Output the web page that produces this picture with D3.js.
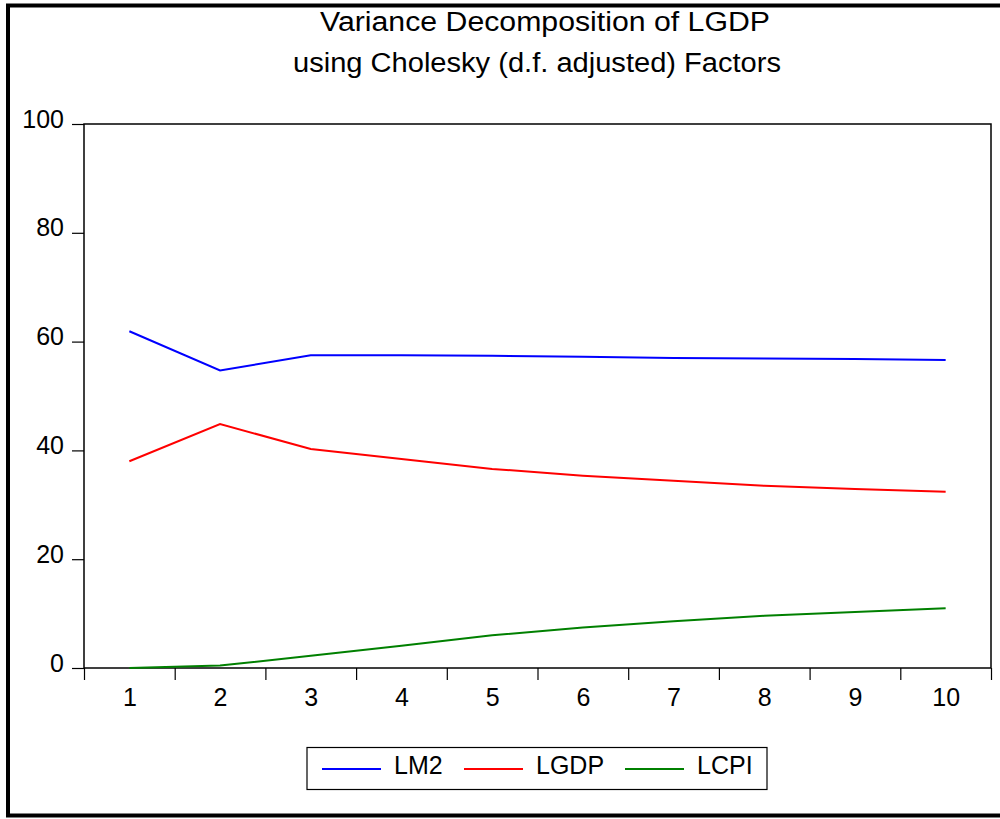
<!DOCTYPE html>
<html>
<head>
<meta charset="utf-8">
<script src="https://cdn.jsdelivr.net/npm/d3@7"></script>
<style>
  html, body { margin: 0; padding: 0; background: #fff; }
  svg { display: block; }
  text { font-family: "Liberation Sans", Arial, sans-serif; fill: #000; }
</style>
</head>
<body>
<svg id="chart" width="1000" height="819"></svg>
<script>
// Forecast horizons (periods)
const periods = [1, 2, 3, 4, 5, 6, 7, 8, 9, 10];

// Share of LGDP forecast-error variance explained by each shock (%)
const lm2Values  = [61.9, 54.7, 57.5, 57.5, 57.4, 57.2, 57.0, 56.9, 56.8, 56.6];
const lgdpValues = [38.0, 44.85, 40.25, 38.4, 36.6, 35.35, 34.4, 33.5, 32.9, 32.4];
const lcpiValues = [0.0, 0.45, 2.25, 4.1, 6.0, 7.45, 8.6, 9.6, 10.3, 11.0];

const seriesNames  = ["LM2", "LGDP", "LCPI"];
const seriesColors = ["#0000ff", "#ff0000", "#008000"];
const yTicks = [0, 20, 40, 60, 80, 100];
const titleLines = ["Variance Decomposition of LGDP", "using Cholesky (d.f. adjusted) Factors"];

const series = [lm2Values, lgdpValues, lcpiValues].map((vals, i) => ({
  name: seriesNames[i],
  color: seriesColors[i],
  values: vals.map((v, j) => ({ period: periods[j], value: v }))
}));

const svg = d3.select("#chart");
const plot = { left: 84, top: 124, right: 991, bottom: 668 };
const labelFont = "25px";

// outer frame
svg.append("rect")
  .attr("x", 8).attr("y", 5.5)
  .attr("width", 1010).attr("height", 810)
  .attr("fill", "none").attr("stroke", "#000").attr("stroke-width", 4);

// two-line title, each line stretched to its set width
const titleStart = [320, 293];
const titleWidth = [450, 488];
svg.append("g").selectAll("text")
  .data(titleLines)
  .join("text")
  .attr("x", (d, i) => titleStart[i])
  .attr("y", (d, i) => 31 + i * 41)
  .attr("textLength", (d, i) => titleWidth[i])
  .attr("lengthAdjust", "spacingAndGlyphs")
  .style("font-size", "27px")
  .text(d => d);

const x = d3.scaleLinear()
  .domain([0.5, 10.5])
  .range([plot.left, plot.right]);

const y = d3.scaleLinear()
  .domain([0, 100])
  .range([plot.bottom, plot.top]);

// plot box
svg.append("rect")
  .attr("x", plot.left).attr("y", plot.top)
  .attr("width", plot.right - plot.left).attr("height", plot.bottom - plot.top)
  .attr("fill", "none").attr("stroke", "#000").attr("stroke-width", 1.5);

// y axis
const yAxis = svg.append("g")
  .attr("transform", `translate(${plot.left},0)`)
  .call(d3.axisLeft(y).tickValues(yTicks).tickSize(12).tickPadding(8));
yAxis.select(".domain").remove();
yAxis.selectAll("line").attr("stroke", "#000").attr("stroke-width", 1.2);
yAxis.selectAll("text")
  .style("font-size", labelFont)
  .style("font-family", "'Liberation Sans', Arial, sans-serif")
  .attr("dy", "0.12em");

// x axis: tick marks at period boundaries, labels at period centres
const boundaries = d3.range(0.5, 11, 1);
const xTicks = svg.append("g")
  .attr("transform", `translate(0,${plot.bottom})`)
  .call(d3.axisBottom(x).tickValues(boundaries).tickSize(12).tickFormat(""));
xTicks.select(".domain").remove();
xTicks.selectAll("line").attr("stroke", "#000").attr("stroke-width", 1.2);

const xLabels = svg.append("g")
  .attr("transform", `translate(0,${plot.bottom})`)
  .call(d3.axisBottom(x).tickValues(periods).tickSize(0).tickPadding(20).tickFormat(d3.format("d")));
xLabels.select(".domain").remove();
xLabels.selectAll("text")
  .style("font-size", labelFont)
  .style("font-family", "'Liberation Sans', Arial, sans-serif");

// series lines
const line = d3.line()
  .x(d => x(d.period))
  .y(d => y(d.value));

svg.append("g").selectAll("path")
  .data(series)
  .join("path")
  .attr("d", d => line(d.values))
  .attr("fill", "none")
  .attr("stroke", d => d.color)
  .attr("stroke-width", 2)
  .attr("stroke-linejoin", "miter");

// legend
const legend = svg.append("g");
legend.append("rect")
  .attr("x", 307).attr("y", 747.5)
  .attr("width", 460).attr("height", 42)
  .attr("fill", "#fff").attr("stroke", "#000").attr("stroke-width", 1.2);

const legendX = [322, 464, 625];
const item = legend.selectAll("g.item")
  .data(series)
  .join("g")
  .attr("class", "item")
  .attr("transform", (d, i) => `translate(${legendX[i]},769)`);
item.append("line")
  .attr("x1", 0).attr("x2", 59)
  .attr("stroke", d => d.color).attr("stroke-width", 2);
item.append("text")
  .attr("x", 72).attr("y", 5)
  .style("font-size", labelFont)
  .text(d => d.name);
</script>
</body>
</html>
